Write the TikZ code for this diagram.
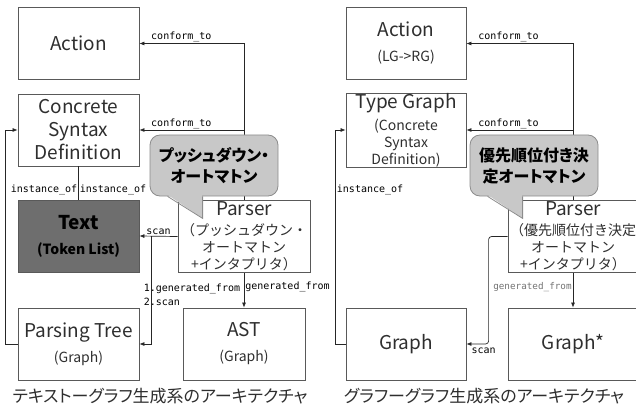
\documentclass[tikz,border=0pt]{standalone}
\usepackage{fontspec}
\setmainfont{Noto Sans CJK JP}
\newfontfamily\jpprop[RawFeature=+palt]{Noto Sans CJK JP}
\newfontfamily\lblfont{DejaVu Sans Mono}
\usetikzlibrary{arrows.meta,calc}

\definecolor{boxline}{HTML}{595959}
\definecolor{darkfill}{HTML}{6E6E6E}
\definecolor{bubblefill}{HTML}{C8C8C8}
\definecolor{bubbleline}{HTML}{8C8C8C}
\definecolor{inktext}{HTML}{2E2E2E}

\newcommand{\bigtxt}{\fontsize{19}{23}\selectfont}
\newcommand{\subtxt}{\fontsize{14}{17}\selectfont}

\tikzset{
  box/.style={draw=boxline, line width=0.8pt, minimum width=121pt, minimum height=72pt,
    inner sep=0pt, align=center, text=inktext, font=\bigtxt},
  darkbox/.style={box, fill=darkfill, text=black, font=\bfseries\bigtxt},
  bubble/.style={draw=bubbleline, fill=bubblefill, line width=0.8pt, rounded corners=10pt,
    minimum width=128pt, minimum height=61pt, inner sep=0pt, align=center,
    font=\jpprop\bfseries\fontsize{16}{21}\selectfont},
  lbl/.style={font=\lblfont\fontsize{10}{14}\selectfont, inner sep=1pt, text=black},
  conn/.style={draw=black!85, line width=0.7pt, -{Latex[length=5pt,width=4pt]}},
  plain/.style={draw=black!85, line width=0.7pt},
  caption/.style={font=\jpprop\fontsize{17}{20}\selectfont, text=inktext},
}

\begin{document}
\begin{tikzpicture}[x=1pt, y=-1pt]
\useasboundingbox (0,0) rectangle (636,414);
\clip (0,0) rectangle (636,414);

% text -> graph
\node[box] (actionL) at (78.5,43.5) {Action};
\node[box] (csdL) at (78.5,130) {Concrete\\Syntax\\Definition};
\node[darkbox] (textL) at (78.5,236) {Text\\[2pt]{\subtxt (Token List)}};
\node[box, minimum width=132pt, font=\subtxt] (parserL) at (244,236.5)
  {{\bigtxt Parser}\\[3pt]（プッシュダウン・\\オートマトン\\+インタプリタ）};
\node[box] (treeL) at (78.5,344) {Parsing Tree\\[2pt]{\subtxt (Graph)}};
\node[box, minimum width=122pt] (astL) at (244,344) {AST\\[2pt]{\subtxt (Graph)}};

\draw[conn] (parserL.north) |- node[lbl, pos=0.95, anchor=south west]{conform\_to} (actionL.east);
\draw[conn] (parserL.north) |- node[lbl, pos=0.95, anchor=south west]{conform\_to} (csdL.east);
\draw[plain] (csdL.south) -- node[lbl, pos=0.7, anchor=east]{instance\_of}
  node[lbl, pos=0.7, anchor=west]{instance\_of} (textL.north);
\coordinate (turnL) at ($(treeL.west)+(-12,0)$);
\draw[conn] (treeL.west) -- (turnL) |- (csdL.west);
\draw[conn] (parserL.west) -- node[lbl, pos=0.5, anchor=south]{scan} (textL.east);
\coordinate (splitL) at ($(textL.east)+(12,0)$);
\draw[conn] (splitL) |- node[lbl, pos=0.27, anchor=west, xshift=-9pt, align=left]
  {1.generated\_from\\2.scan} (treeL.east);
\draw[conn] (parserL.south) -- node[lbl, pos=0.4, anchor=west]{generated\_from} (astL.north);

% bubble
\node[bubble] (bubL) at (214,165.5) {プッシュダウン・\\オートマトン};
\path (bubL.south west) ++(18,0) coordinate (tailLa) ++(35,0) coordinate (tailLb)
  ++(0,22) coordinate (tailLtip);
\fill[bubblefill] ($(tailLa)+(0.6,-1.2)$) -- (tailLtip) -- ($(tailLb)+(-0.4,-1.2)$) -- cycle;
\draw[bubbleline, line width=0.8pt] (tailLa) -- (tailLtip) -- (tailLb);

% graph -> graph
\node[box, minimum width=120pt] (actionR) at (406,43.5) {Action\\[2pt]{\subtxt (LG->RG)}};
\node[box, minimum width=120pt, font=\subtxt] (tgR) at (406,130)
  {{\bigtxt Type Graph}\\[5pt](Concrete\\Syntax\\Definition)};
\node[box, minimum width=130pt, font=\subtxt] (parserR) at (573,236.5)
  {{\bigtxt Parser}\\[3pt]（優先順位付き決定\\オートマトン\\+インタプリタ）};
\node[box, minimum width=120pt] (graphR) at (406,344) {Graph};
\node[box, minimum width=130pt] (graphsR) at (573,344) {Graph*};

\draw[conn] (parserR.north) |- node[lbl, pos=0.95, anchor=south west]{conform\_to} (actionR.east);
\draw[conn] (parserR.north) |- node[lbl, pos=0.95, anchor=south west]{conform\_to} (tgR.east);
\coordinate (turnR) at ($(graphR.west)+(-10,0)$);
\draw[conn] (graphR.west) -- (turnR) |- node[lbl, pos=0.36, anchor=west]{instance\_of} (tgR.west);
\coordinate (bendR) at ($(parserR.west)+(-19,0)$);
\draw[conn, rounded corners=3pt] (parserR.west) -- (bendR) |- node[lbl, pos=0.61, anchor=north, yshift=-3pt]{scan} (graphR.east);
\draw[conn] (parserR.south) -- node[lbl, pos=0.4, anchor=east, font=\lblfont\fontsize{9.3}{11}\selectfont,
  text=black!55]{generated\_from} (graphsR.north);

\node[bubble] (bubR) at (534,165.5) {優先順位付き決\\定オートマトン};
\path (bubR.south west) ++(18,0) coordinate (tailRa) ++(35,0) coordinate (tailRb)
  ++(0,22) coordinate (tailRtip);
\fill[bubblefill] ($(tailRa)+(0.6,-1.2)$) -- (tailRtip) -- ($(tailRb)+(-0.4,-1.2)$) -- cycle;
\draw[bubbleline, line width=0.8pt] (tailRa) -- (tailRtip) -- (tailRb);

% captions
\node[caption] (capL) at (160,396) {テキストーグラフ生成系のアーキテクチャ};
\node[caption] (capR) at (484,396) {グラフーグラフ生成系のアーキテクチャ};
\end{tikzpicture}
\end{document}
